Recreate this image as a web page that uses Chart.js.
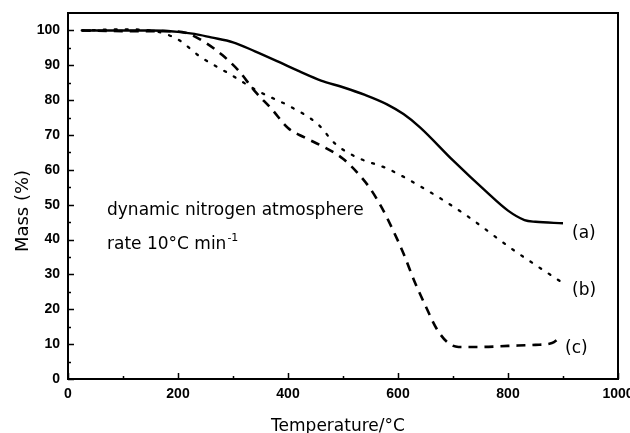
<!DOCTYPE html>
<html lang="en">
<head>
  <meta charset="UTF-8">
  <title>TGA curves</title>
  <script src="https://cdn.jsdelivr.net/npm/chart.js"></script>
  <style>
    html, body { margin: 0; padding: 0; background: #fff; }
    #wrap { width: 630px; height: 433px; position: relative; }
  </style>
</head>
<body>
  <div id="wrap"><canvas id="tgaChart"></canvas></div>

  <script>
    // curve (a) - solid
    const tempA = [25, 100, 150, 200, 230, 260, 300, 340, 380, 420, 460, 500, 540, 580, 610, 640, 700, 760, 800, 830, 850, 900];
    const massA = [100, 100, 100, 99.6, 99, 98, 96.6, 94, 91.2, 88.3, 85.6, 83.7, 81.5, 78.8, 76, 72.2, 62.7, 53.8, 48.3, 45.6, 45.1, 44.7];

    // curve (b) - dotted
    const tempB = [25, 100, 150, 200, 240, 295, 343, 380, 400, 455, 485, 525, 580, 650, 720, 810, 900];
    const massB = [100, 100.3, 100, 97.4, 92.5, 87.4, 82.8, 80, 78.5, 73, 67.6, 63.6, 60.4, 54.4, 47.4, 37, 27.5];

    // curve (c) - dashed
    const tempC = [25, 100, 150, 200, 220, 250, 280, 310, 340, 370, 400, 430, 460, 500, 530, 550, 570, 590, 610, 630, 650, 670, 690, 710, 750, 800, 850, 880, 895];
    const massC = [100, 99.8, 99.8, 99.7, 99, 96.5, 93, 88.5, 82.5, 77.5, 72, 69.3, 67, 63.2, 58.5, 54.5, 49.3, 43, 36, 28, 21, 14.5, 10.5, 9.2, 9.2, 9.5, 9.8, 10.3, 12];

    const curveLabels = ['(a)', '(b)', '(c)'];
    const xTickStep = 200;
    const yTickStep = 10;

    function toPoints(xs, ys) {
      return xs.map((x, i) => ({ x: x, y: ys[i] }));
    }

    Chart.defaults.color = '#000';
    Chart.defaults.font.family = 'DejaVu Sans';

    // frame, inward ticks and the text notes
    const decorations = {
      id: 'decorations',
      afterDraw(chart) {
        const c = chart.ctx;
        const a = chart.chartArea;
        const xs = chart.scales.x;
        const ys = chart.scales.y;
        c.save();
        c.strokeStyle = '#000';
        c.lineWidth = 2;
        c.strokeRect(a.left, a.top, a.right - a.left, a.bottom - a.top);

        c.lineWidth = 1.5;
        c.beginPath();
        for (let v = 0; v <= 1000; v += 100) {
          const px = Math.round(xs.getPixelForValue(v)) + 0.5;
          const len = v % 200 === 0 ? 6 : 3;
          c.moveTo(px, a.bottom);
          c.lineTo(px, a.bottom - len);
        }
        for (let v = 0; v <= 100; v += 5) {
          const py = Math.round(ys.getPixelForValue(v)) + 0.5;
          const len = v % 10 === 0 ? 6 : 3;
          c.moveTo(a.left, py);
          c.lineTo(a.left + len, py);
        }
        c.stroke();

        c.fillStyle = '#000';
        c.textBaseline = 'alphabetic';
        c.textAlign = 'left';
        c.font = '17px "DejaVu Sans"';
        c.fillText('dynamic nitrogen atmosphere', 107, 215);
        const rateText = 'rate 10°C min';
        c.fillText(rateText, 107, 249);
        const w = c.measureText(rateText).width;
        c.font = '11px "DejaVu Sans"';
        c.fillText('-1', 107 + w + 1, 241);

        c.font = '17px "DejaVu Sans"';
        c.fillText(curveLabels[0], 572, 238);
        c.fillText(curveLabels[1], 572, 295);
        c.fillText(curveLabels[2], 565, 353);

        // axis titles
        c.textAlign = 'center';
        c.fillText('Temperature/°C', 338, 431);
        c.translate(28, 211);
        c.rotate(-Math.PI / 2);
        c.font = '18px "DejaVu Sans"';
        c.fillText('Mass (%)', 0, 0);
        c.restore();
      }
    };

    const tickFont = { family: 'Liberation Sans', size: 14, weight: 'bold' };

    const ctx = document.getElementById('tgaChart').getContext('2d');
    const tgaChart = new Chart(ctx, {
      type: 'line',
      data: {
        datasets: [{
          label: curveLabels[0],
          data: toPoints(tempA, massA),
          borderColor: '#000',
          borderWidth: 2.4,
          pointRadius: 0,
          cubicInterpolationMode: 'monotone',
          fill: false
        }, {
          label: curveLabels[1],
          data: toPoints(tempB, massB),
          borderColor: '#000',
          borderWidth: 2.3,
          borderDash: [2, 9],
          borderCapStyle: 'round',
          pointRadius: 0,
          cubicInterpolationMode: 'monotone',
          fill: false
        }, {
          label: curveLabels[2],
          data: toPoints(tempC, massC),
          borderColor: '#000',
          borderWidth: 2.6,
          borderDash: [9, 7],
          pointRadius: 0,
          cubicInterpolationMode: 'monotone',
          fill: false
        }]
      },
      options: {
        responsive: true,
        maintainAspectRatio: false,
        animation: false,
        events: [],
        layout: { padding: { top: 13, right: 12, left: 0, bottom: 0 } },
        plugins: {
          legend: { display: false },
          tooltip: { enabled: false }
        },
        scales: {
          x: {
            type: 'linear',
            min: 0,
            max: 1000,
            grid: { display: false, drawTicks: false },
            border: { display: false },
            ticks: {
              stepSize: xTickStep,
              padding: 7,
              maxRotation: 0,
              font: tickFont,
              callback: v => String(v)
            },
            afterFit(scale) {
              scale.height = 54;
              scale.paddingLeft = 0;
              scale.paddingRight = 0;
            }
          },
          y: {
            min: 0,
            max: 105,
            grid: { display: false, drawTicks: false },
            border: { display: false },
            ticks: {
              stepSize: yTickStep,
              padding: 8,
              font: tickFont,
              callback: v => String(v)
            },
            afterBuildTicks(scale) {
              scale.ticks = scale.ticks.filter(t => t.value % 10 === 0);
            },
            afterFit(scale) {
              scale.width = 68;
              scale.paddingTop = 0;
              scale.paddingBottom = 0;
            }
          }
        }
      },
      plugins: [decorations]
    });
  </script>
</body>
</html>
